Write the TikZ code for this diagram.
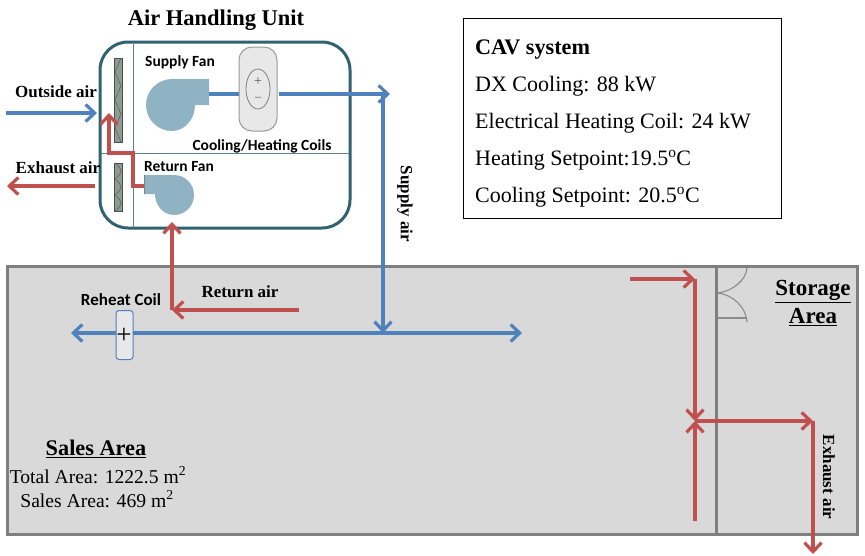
\documentclass[tikz,border=0pt]{standalone}
\usepackage{fontspec}
\setmainfont{Liberation Serif}
\newfontfamily\labelfont{Carlito}
\usetikzlibrary{arrows.meta,patterns}
\definecolor{airblue}{HTML}{4F81BD}
\definecolor{airred}{HTML}{C0504D}
\definecolor{ahuteal}{HTML}{31626F}
\definecolor{fanblue}{HTML}{8FB3C2}
\definecolor{roomgrey}{HTML}{D9D9D9}
\definecolor{wallgrey}{HTML}{7F7F7F}
\definecolor{filtergrey}{HTML}{8C9C94}
\tikzset{
  x=1pt,y=-1pt,
  barb/.tip={Straight Barb[length=9pt,width=17pt,line width=3.2pt]},
  bluearrow/.style={draw=airblue,line width=3.2pt,-{barb}},
  redarrow/.style={draw=airred,line width=3.2pt,-{barb}},
  blueline/.style={draw=airblue,line width=3.2pt},
  redline/.style={draw=airred,line width=3.2pt},
  titlelabel/.style={font=\bfseries\fontsize{17}{20}\selectfont,inner sep=0pt},
  fanlabel/.style={font=\labelfont\bfseries\fontsize{15.5}{18}\selectfont,inner sep=0pt},
  arealabel/.style={font=\bfseries\fontsize{23}{26}\selectfont,inner sep=0pt},
  infolabel/.style={font=\fontsize{19.6}{24}\selectfont,inner sep=0pt},
  cavline/.style={font=\fontsize{22}{26}\selectfont,inner sep=0pt,anchor=west},
  filterbox/.style={draw=black!70,line width=.6pt,fill=filtergrey},
  zig/.style={draw=black!60,line width=.7pt},
  coilbox/.style={draw=#1,fill=black!9,rounded corners=13pt,line width=1pt},
  doorline/.style={draw=black!45,line width=1.1pt},
  wall/.style={draw=wallgrey,line width=3pt},
  thinteal/.style={draw=ahuteal!80,line width=1pt}
}
\begin{document}
\begin{tikzpicture}
\useasboundingbox (0,0) rectangle (865,555);
% room
\draw[wall,fill=roomgrey] (7,266) rectangle (857,534);
\draw[wall] (716,266) -- (716,534);
\draw[wall] (714,266.5) -- (753,266.5);
\draw[doorline] (747,268) .. controls (746,280) and (733,291) .. (718,293);
\draw[doorline] (718,293) .. controls (733,295) and (746,307) .. (747,322);
\draw[doorline] (718,318) -- (747,318);
% AHU
\draw[ahuteal,line width=3pt,fill=white,rounded corners=28pt] (100,42) rectangle (350,228);
\draw[thinteal] (133,42) -- (133,228);
\draw[thinteal] (101,153) -- (349,153);
% filters
\draw[filterbox] (114,58) rectangle (122,142);
\draw[zig] (121,58) -- (115,72) -- (121,86) -- (115,100) -- (121,114) -- (115,128) -- (121,142);
\draw[filterbox] (114,163) rectangle (122,211);
\draw[zig] (115,163) .. controls (123,170) and (123,173) .. (115,179) .. controls (123,185) and (123,189) .. (115,195) .. controls (123,201) and (123,205) .. (115,211);
% supply fan
\fill[fanblue] (209,79) -- (172,79) arc[start angle=-90,end angle=-270,radius=26] -- (172,131)
  .. controls (185,131) and (195,119) .. (195,105) -- (209,105) -- cycle;
% return fan
\fill[fanblue] (144,175) -- (174,175) arc[start angle=-90,end angle=90,radius=20] .. controls (163,215) and (155,205) .. (155,194) -- (144,194) -- cycle;
\draw[wallgrey,line width=1pt] (144.5,175) -- (144.5,194);
% coil
\node[coilbox=black!40,minimum width=38pt,minimum height=84pt,inner sep=0pt] (coil) at (258,89) {};
\draw[black!50,line width=.8pt] (258,89) ellipse[x radius=12,y radius=20];
\node[font=\fontsize{14}{14}\selectfont,inner sep=0pt,text=black!65] (coilplus) at (258,82) {+};
\node[font=\fontsize{12}{12}\selectfont,inner sep=0pt,text=black!65] (coilminus) at (258,99) {--};
% reheat coil
\node[coilbox=airblue,draw=airblue,rounded corners=3pt,minimum width=17pt,minimum height=49pt,inner sep=0pt] (reheat) at (124.5,335) {};
% coordinates
\coordinate (oa0) at (6,113); \coordinate (oa1) at (97,113);
\coordinate (ea0) at (95,186); \coordinate (ea1) at (7,186);
\coordinate (fanout) at (209,94); \coordinate (coilin) at (239,94);
\coordinate (coilout) at (279,94); \coordinate (supend) at (390,94);
\coordinate (supdown) at (383,94); \coordinate (supj) at (383,333);
\coordinate (sales0) at (522,333); \coordinate (sales1) at (71,333);
\coordinate (rhe) at (133,333); \coordinate (rhw) at (116,333);
\coordinate (rafan) at (144,186); \coordinate (rb1) at (133,186); \coordinate (rb2) at (133,153);
\coordinate (rb3) at (109,153); \coordinate (rb4) at (109,113);
\coordinate (ret0) at (299,310); \coordinate (ret1) at (172,310); \coordinate (ret2) at (172,222);
\coordinate (st0) at (630,279); \coordinate (st1) at (695,279); \coordinate (st2) at (695,421);
\coordinate (st3) at (695,521); \coordinate (st4) at (813,421); \coordinate (st5) at (813,554);
% blue
\draw[bluearrow] (oa0) -- (oa1);
\draw[blueline] (fanout) -- (coilin);
\draw[bluearrow] (coilout) -- (supend);
\draw[bluearrow] (supdown) -- (supj);
\draw[bluearrow] (supj) -- (sales0);
\draw[blueline] (supj) -- (rhe);
\draw[bluearrow] (rhw) -- (sales1);
\node[inner sep=0pt,font=\fontsize{27}{27}\selectfont] (reheatplus) at (124,336) {+};
% red
\draw[redarrow] (ea0) -- (ea1);
\draw[redarrow] (rafan) -- (rb1) -- (rb2) -- (rb3) -- (rb4);
\draw[redarrow] (ret0) -- (ret1);
\draw[redarrow] (ret1) -- (ret2);
\draw[redarrow] (st0) -- (st1);
\draw[redarrow] (st1) -- (st2);
\draw[redarrow] (st3) -- (st2);
\draw[redarrow] (st2) -- (st4);
\draw[redarrow] (st4) -- (st5);
% labels
\node[font=\bfseries\fontsize{22.5}{26}\selectfont,inner sep=0pt] (title) at (216,20) {Air Handling Unit};
\node[titlelabel] (outl) at (56,92) {Outside air};
\node[titlelabel] (exl) at (58,168) {Exhaust air};
\node[fanlabel] (sfl) at (180,62) {Supply Fan};
\node[fanlabel] (rfl) at (179,167) {Return Fan};
\node[fanlabel] (chl) at (262,146) {Cooling/Heating Coils};
\node[fanlabel,font=\labelfont\bfseries\fontsize{17}{19}\selectfont] (rhl) at (121,300) {Reheat Coil};
\node[titlelabel] (retl) at (240,292) {Return air};
\node[titlelabel,rotate=-90] (supl) at (405,204) {Supply air};
\node[titlelabel,rotate=-90] (exl2) at (829,477) {Exhaust air};
\node[arealabel,align=center] (storel) at (813,303) {\underline{Storage}\\[2pt]\underline{Area}};
\node[arealabel,font=\bfseries\fontsize{22.3}{26}\selectfont] (salesl) at (96,449) {\underline{Sales Area}};
\node[infolabel] (tot) at (98,475) {Total Area: 1222.5 m\textsuperscript{2}};
\node[infolabel] (sal) at (97,499) {Sales Area: 469 m\textsuperscript{2}};
% CAV box
\node[draw=black,line width=.8pt,fill=white,minimum width=318pt,minimum height=200pt,inner sep=0pt] (cav) at (622,118) {};
\node[cavline,font=\bfseries\fontsize{22.2}{26}\selectfont] (c1) at (475,50) {CAV system};
\node[cavline] (c2) at (475,86) {DX Cooling: 88 kW};
\node[cavline] (c3) at (475,123) {Electrical Heating Coil: 24 kW};
\node[cavline] (c4) at (475,160) {Heating Setpoint:19.5\textsuperscript{o}C};
\node[cavline] (c5) at (475,197) {Cooling Setpoint: 20.5\textsuperscript{o}C};
\end{tikzpicture}
\end{document}
